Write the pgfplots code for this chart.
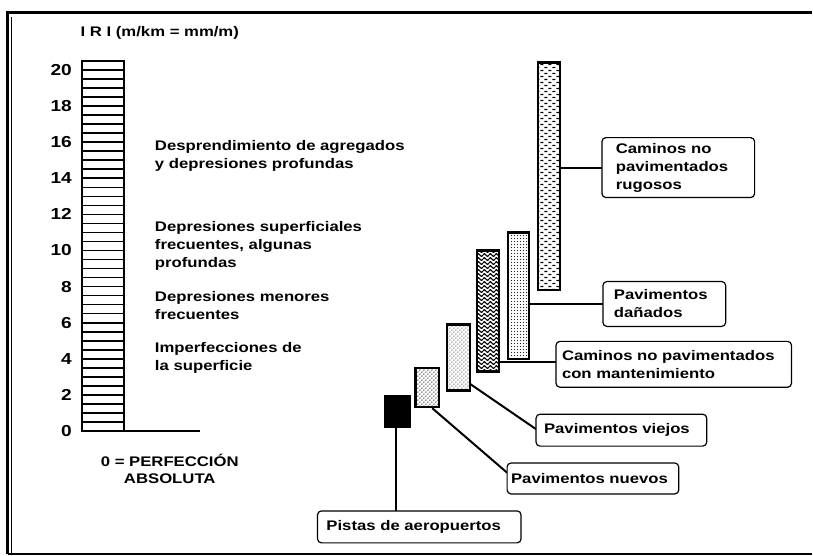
\documentclass[border=0pt]{standalone}
\usepackage{fontspec}
\setmainfont{Liberation Sans}[FakeStretch=1.2]
\usepackage{pgfplots}
\pgfplotsset{compat=1.18}
\usetikzlibrary{patterns,patterns.meta}

\tikzdeclarepattern{name=bigdots, type=uncolored,
  bounding box={(0pt,0pt) and (4pt,4pt)}, tile size={(4pt,4pt)},
  parameters={}, code={\pgfpathcircle{\pgfpoint{1pt}{1pt}}{0.75pt}\pgfusepath{fill}\pgfpathcircle{\pgfpoint{3pt}{3pt}}{0.75pt}\pgfusepath{fill}}}
\tikzdeclarepattern{name=finedots, type=uncolored,
  bounding box={(0pt,0pt) and (3pt,3pt)}, tile size={(3pt,3pt)},
  parameters={}, code={\pgfpathcircle{\pgfpoint{1.5pt}{1.5pt}}{0.6pt}\pgfusepath{fill}}}
\tikzdeclarepattern{name=dashes, type=uncolored,
  bounding box={(0pt,0pt) and (8pt,6pt)}, tile size={(8pt,6pt)},
  parameters={}, code={\pgfpathrectangle{\pgfpoint{0.5pt}{0.8pt}}{\pgfpoint{3pt}{1.4pt}}\pgfusepath{fill}\pgfpathrectangle{\pgfpoint{4.5pt}{3.8pt}}{\pgfpoint{3pt}{1.4pt}}\pgfusepath{fill}}}
\tikzdeclarepattern{name=waves, type=uncolored,
  bounding box={(0pt,0pt) and (6pt,4pt)}, tile size={(6pt,4pt)},
  parameters={}, code={\pgfsetlinewidth{1.1pt}\pgfpathmoveto{\pgfpoint{0pt}{2pt}}\pgfpathcurveto{\pgfpoint{1pt}{4pt}}{\pgfpoint{2pt}{4pt}}{\pgfpoint{3pt}{2pt}}\pgfpathcurveto{\pgfpoint{4pt}{0pt}}{\pgfpoint{5pt}{0pt}}{\pgfpoint{6pt}{2pt}}\pgfusepath{stroke}}}

\begin{document}
\begin{tikzpicture}
\begin{axis}[
  scale only axis, width=813bp, height=557bp,
  xmin=0, xmax=813, ymin=-6.906, ymax=23.867,
  axis line style={draw=none},
  major tick length=0pt,
  xtick=\empty,
  ytick={0,2,...,20},
  yticklabel style={font=\fontsize{16}{16}\selectfont\bfseries, anchor=east, xshift=72bp, inner sep=0pt},
  /pgf/number format/assume math mode=true,
  clip=false,
]
% frame
\draw[line width=3bp] (rel axis cs:0.0092,0.0036) -- (rel axis cs:0.0092,0.9767) -- (rel axis cs:1,0.9767);
\draw[line width=1bp] (rel axis cs:0.0142,0.0036) -- (rel axis cs:0.0142,0.9700);
\draw[line width=1.5bp] (rel axis cs:0.0092,0.0036) -- (rel axis cs:1,0.0036);

% IRI scale bar
\addplot[draw=black, line width=1.5bp, fill=white] coordinates {(82,0) (124,0) (124,20.5) (82,20.5)} --cycle;
\addplot[only marks, mark=-, mark size=21bp, mark options={line width=1.5bp}] coordinates {
 (103,0.5) (103,1) (103,1.5) (103,2) (103,2.5) (103,3) (103,3.5) (103,4) (103,4.5) (103,5)
 (103,5.5) (103,6) (103,6.5) (103,7) (103,7.5) (103,8) (103,8.5) (103,9) (103,9.5) (103,10)
 (103,10.5) (103,11) (103,11.5) (103,12) (103,12.5) (103,13) (103,13.5) (103,14) (103,14.5) (103,15)
 (103,15.5) (103,16) (103,16.5) (103,17) (103,17.5) (103,18) (103,18.5) (103,19) (103,19.5) (103,20)};
\addplot[draw=black, line width=1.5bp] coordinates {(124,0) (200,0)};

% road type bars (IRI ranges)
\addplot[draw=black, line width=2.5bp, fill=black] coordinates {(386,0.25) (410,0.25) (410,1.95) (386,1.95)} --cycle;
\addplot[draw=black, line width=2.5bp, preaction={fill=white}, pattern={bigdots}, pattern color=black!85] coordinates {(416,1.35) (440,1.35) (440,3.5) (416,3.5)} --cycle;
\addplot[draw=black, line width=2.5bp, preaction={fill=white}, pattern={bigdots}, pattern color=black!60] coordinates {(448,2.25) (471,2.25) (471,5.9) (448,5.9)} --cycle;
\addplot[draw=black, line width=2.5bp, preaction={fill=white}, pattern={waves}, pattern color=black] coordinates {(478,3.3) (500,3.3) (500,10.0) (478,10.0)} --cycle;
\addplot[draw=black, line width=2.5bp, preaction={fill=white}, pattern={finedots}, pattern color=black!85] coordinates {(509,4.0) (530,4.0) (530,11.0) (509,11.0)} --cycle;
\addplot[draw=black, line width=2.5bp, preaction={fill=white}, pattern={dashes}, pattern color=black] coordinates {(539,7.8) (561,7.8) (561,20.4) (539,20.4)} --cycle;

% connectors
\draw[line width=2bp] (axis cs:561,14.59) -- (axis cs:603,14.59);
\draw[line width=2bp] (axis cs:530,7.02) -- (axis cs:604,7.02);
\draw[line width=2bp] (axis cs:500,3.81) -- (axis cs:557,3.81);
\draw[line width=2bp] (axis cs:470,2.65) -- (axis cs:537,0.11);
\draw[line width=2bp] (axis cs:433,1.27) -- (axis cs:508,-2.3);
\draw[line width=2bp] (axis cs:397,0.22) -- (axis cs:397,-4.42);

% label boxes
\begin{scope}[every node/.style={draw, line width=1.2bp, rounded corners=4bp, align=left, font=\fontsize{14}{18}\selectfont\bfseries, inner ysep=2bp, fill=white}]
\node[minimum height=60bp, inner xsep=14bp, text width=125bp] at (axis cs:679.5,14.59) {Caminos no\\pavimentados\\rugosos};
\node[minimum height=45bp, inner xsep=11bp, text width=101bp] at (axis cs:665.5,7.04) {Pavimentos\\dañados};
\node[minimum height=46bp, inner xsep=6bp, text width=224bp] at (axis cs:675,3.70) {Caminos no pavimentados\\con mantenimiento};
\node[minimum height=32bp, inner xsep=8bp, text width=155bp] at (axis cs:622.5,0.055) {Pavimentos viejos};
\node[minimum height=31bp, inner xsep=4bp, text width=164bp] at (axis cs:594,-2.62) {Pavimentos nuevos};
\node[minimum height=32bp, inner xsep=9bp, text width=186bp] at (axis cs:420,-5.30) {Pistas de aeropuertos};
\end{scope}

% descriptions
\begin{scope}[every node/.style={anchor=west, align=left, font=\fontsize{14}{18}\selectfont\bfseries, inner sep=0pt}]
\node at (axis cs:155,15.25) {Desprendimiento de agregados\\y depresiones profundas};
\node at (axis cs:155,10.25) {Depresiones superficiales\\frecuentes, algunas\\profundas};
\node at (axis cs:155,6.93) {Depresiones menores\\frecuentes};
\node at (axis cs:155,4.03) {Imperfecciones de\\la superficie};
\end{scope}
\node[font=\fontsize{14}{18}\selectfont\bfseries] at (axis cs:160,22.04) {I R I (m/km = mm/m)};
\node[align=center, font=\fontsize{14}{17}\selectfont\bfseries] at (axis cs:170,-2.07) {0 = PERFECCIÓN\\ABSOLUTA};
\end{axis}
\end{tikzpicture}
\end{document}
